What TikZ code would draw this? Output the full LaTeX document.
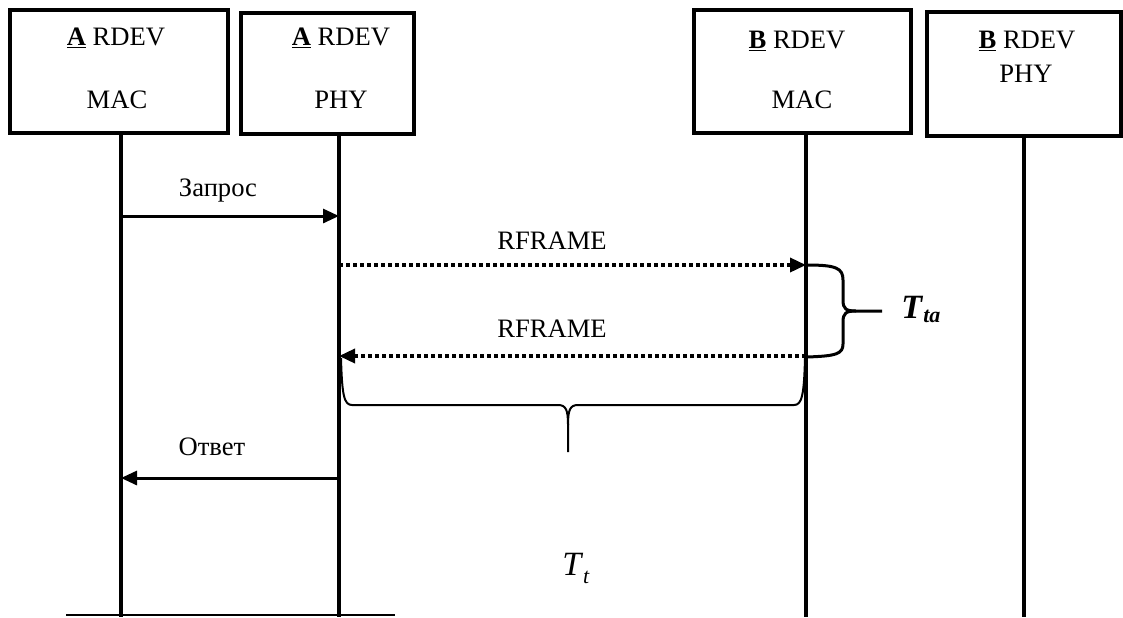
\documentclass[tikz,border=0pt]{standalone}
\usepackage{fontspec}
\setmainfont{Liberation Serif}
\usetikzlibrary{positioning,arrows.meta}

\begin{document}
\begin{tikzpicture}[x=0.5pt, y=-0.5pt, font=\fontsize{13.3}{15}\selectfont,
    devbox/.style={draw, line width=2pt, inner sep=0pt},
    devtext/.style={anchor=base, inner sep=0pt},
    life/.style={line width=1.8pt},
    msg/.style={line width=1.5pt, -{Triangle[length=8pt, width=7pt]}},
    rframe/.style={msg, line width=1.75pt, dash pattern=on 2pt off 1.5pt},
    brc/.style={line width=1.5pt, line join=round}]
    \useasboundingbox (0,0) rectangle (1123,617);
    \node [devbox, minimum width=109pt, minimum height=61.5pt] (amac) at (119,71.5) {};
    \node [devbox, minimum width=86.5pt, minimum height=60.5pt] (aphy) at (327.5,73.5) {};
    \node [devbox, minimum width=108.5pt, minimum height=61.5pt] (bmac) at (802.5,71.5) {};
    \node [devbox, minimum width=97pt, minimum height=62pt] (bphy) at (1024,74) {};
    \node [devtext] (amac1) at (116,45) {\underline{\textbf{A}} RDEV};
    \node [devtext] (amac2) at (117,108) {MAC};
    \node [devtext] (aphy1) at (341,45) {\underline{\textbf{A}} RDEV};
    \node [devtext] (aphy2) at (341,108) {PHY};
    \node [devtext] (bmac1) at (797,48) {\underline{\textbf{B}} RDEV};
    \node [devtext] (bmac2) at (802,108) {MAC};
    \node [devtext] (bphy1) at (1027,48) {\underline{\textbf{B}} RDEV};
    \node [devtext] (bphy2) at (1026,82) {PHY};
    \coordinate (endamac) at (121,617);
    \coordinate (endaphy) at (339,617);
    \coordinate (endbmac) at (806,617);
    \coordinate (endbphy) at (1024,617);
    \draw [life] (amac.south -| endamac) -- (endamac);
    \draw [life] (aphy.south -| endaphy) -- (endaphy);
    \draw [life] (bmac.south -| endbmac) -- (endbmac);
    \draw [life] (bphy.south -| endbphy) -- (endbphy);
    \coordinate (req) at (0,216);
    \coordinate (fwd) at (0,265);
    \coordinate (back) at (0,356);
    \coordinate (resp) at (0,478);
    \draw [msg] (endamac |- req) -- (endaphy |- req);
    \draw [rframe] (endaphy |- fwd) -- (endbmac |- fwd);
    \draw [rframe] (endbmac |- back) -- (endaphy |- back);
    \draw [msg] (endaphy |- resp) -- (endamac |- resp);
    \node [devtext] (reqlabel) at (218,196) {Запрос};
    \node [devtext] (fwdlabel) at (552,249) {RFRAME};
    \node [devtext] (backlabel) at (552,337) {RFRAME};
    \node [devtext] (resplabel) at (212,455) {Ответ};
    \draw [line width=0.75pt] (66,615) -- (395,615);
    \draw [brc] (807,265) .. controls (836,265) and (843,268) .. (843,280) -- (843,300)
        .. controls (843,309) and (846,311) .. (856,311) -- (882,311);
    \draw [brc] (856,311) .. controls (846,311) and (843,313) .. (843,322) -- (843,344)
        .. controls (843,354) and (836,356) .. (807,357);
    \draw [brc, line width=1pt] (341,358) .. controls (342,395) and (344,405) .. (352,405) -- (558,405)
        .. controls (566,405) and (568,410) .. (568,425) -- (568,452);
    \draw [brc, line width=1pt] (568,425) .. controls (568,410) and (570,405) .. (578,405) -- (794,405)
        .. controls (802,405) and (804,395) .. (805,358);
    \node [devtext, font=\fontsize{17}{20}\selectfont] (ttlabel) at (576,575)
        {\textit{T}\raisebox{-4pt}{\fontsize{11}{12}\selectfont\textit{t}}};
    \node [devtext, anchor=base west, font=\fontsize{17}{20}\selectfont] (ttalabel) at (901,318)
        {\textbf{\textit{T}}\raisebox{-2pt}{\fontsize{11}{12}\selectfont\textbf{\textit{ta}}}};
\end{tikzpicture}
\end{document}
